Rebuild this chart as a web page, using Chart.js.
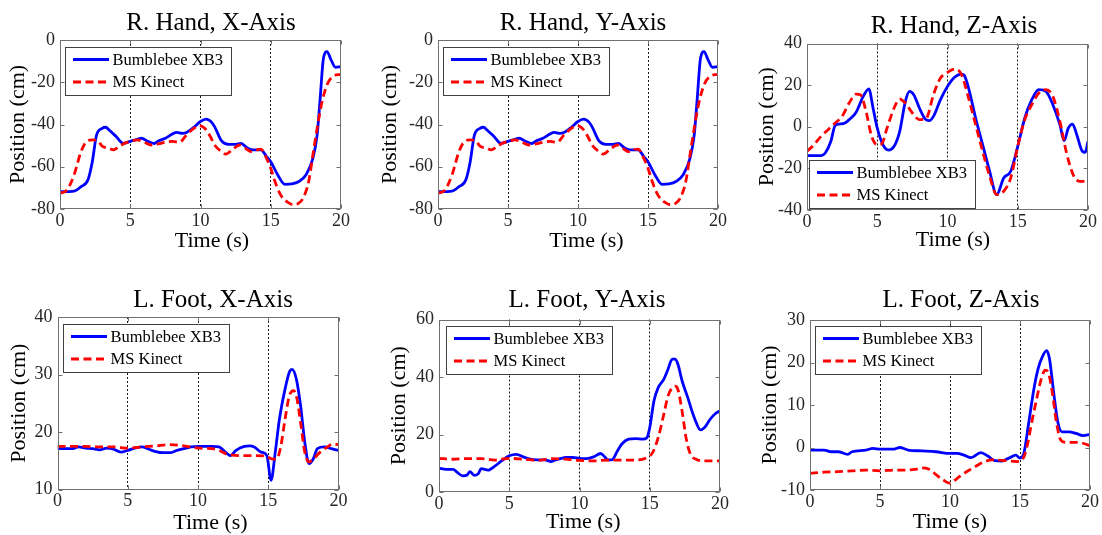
<!DOCTYPE html>
<html><head><meta charset="utf-8">
<script src="https://cdn.jsdelivr.net/npm/chart.js@4.4.1/dist/chart.umd.min.js"></script>
<style>
html,body{margin:0;padding:0;background:#fff;width:1102px;height:535px;overflow:hidden;position:relative}
canvas{position:absolute}
</style></head><body>
<script>
// ---------- data ----------
const seriesNames = ['Bumblebee XB3', 'MS Kinect'];
const timeTicks = [0, 5, 10, 15, 20];
const eventTimes = [5, 10, 15];

// R. Hand, X-Axis
const rhxBlueT = [0,1,1.5,2,2.3,2.6,3,3.25,3.5,4,4.5,5,5.5,5.8,6.2,6.7,7,7.5,8,8.3,8.7,9,9.5,10,10.4,10.8,11,11.5,12,12.5,12.9,13.3,13.7,14,14.3,14.7,15,15.5,16,16.5,17,17.5,18,18.3,18.5,18.75,19,19.3,19.6,20];
const rhxBlueV = [-71.8,-71.5,-69.4,-66,-57.6,-45,-41.8,-41.3,-42.6,-45.7,-48.9,-48,-47,-46.5,-47.8,-49,-47.8,-46.5,-44.5,-43.7,-44.2,-43.8,-41.5,-38.6,-37.5,-39,-41,-47.8,-49.4,-49.4,-49,-51,-52,-52,-52,-55.2,-57.6,-63.9,-68.3,-68.1,-67,-63.9,-56,-45,-29.2,-8.7,-5.5,-9.5,-12.9,-12.6];
const rhxRedT = [0,0.5,1,1.5,1.9,2.3,2.7,3,3.5,3.8,4.2,4.6,5,5.5,6,6.5,7,7.5,8,8.5,9,9.5,9.9,10.3,10.7,11,11.5,11.8,12.3,12.8,13.2,13.6,14,14.3,14.7,15,15.3,15.7,16.2,16.6,17,17.3,17.7,18,18.3,18.6,19,19.4,20];
const rhxRedV = [-72.6,-71,-63.9,-52.8,-48,-47.3,-47.8,-50.2,-51.3,-52,-50.5,-48.9,-48,-47.3,-48.4,-49.7,-49.2,-48.4,-48,-48.4,-45,-42,-40.5,-41.8,-45.7,-49.7,-52.8,-54,-51.7,-49.7,-51.3,-52.8,-52,-51.7,-56,-60.7,-67,-73.3,-76.8,-78,-77.2,-74.9,-67,-54.4,-41.8,-30.8,-21.3,-17.4,-16.2];
const rhxYTicks = [-80,-60,-40,-20,0];

// R. Hand, Y-Axis
const rhyBlueT = [0,1,1.5,2,2.3,2.6,3,3.25,3.5,4,4.5,5,5.5,5.8,6.2,6.7,7,7.5,8,8.3,8.7,9,9.5,10,10.4,10.8,11,11.5,12,12.5,12.9,13.3,13.7,14,14.3,14.7,15,15.5,16,16.5,17,17.5,18,18.3,18.5,18.75,19,19.3,19.6,20];
const rhyBlueV = [-71.8,-71.5,-69.4,-66,-57.6,-45,-41.8,-41.3,-42.6,-45.7,-48.9,-48,-47,-46.5,-47.8,-49,-47.8,-46.5,-44.5,-43.7,-44.2,-43.8,-41.5,-38.6,-37.5,-39,-41,-47.8,-49.4,-49.4,-49,-51,-52,-52,-52,-55.2,-57.6,-63.9,-68.3,-68.1,-67,-63.9,-56,-45,-29.2,-8.7,-5.5,-9.5,-12.9,-12.6];
const rhyRedT = [0,0.5,1,1.5,1.9,2.3,2.7,3,3.5,3.8,4.2,4.6,5,5.5,6,6.5,7,7.5,8,8.5,9,9.5,9.9,10.3,10.7,11,11.5,11.8,12.3,12.8,13.2,13.6,14,14.3,14.7,15,15.3,15.7,16.2,16.6,17,17.3,17.7,18,18.3,18.6,19,19.4,20];
const rhyRedV = [-72.6,-71,-63.9,-52.8,-48,-47.3,-47.8,-50.2,-51.3,-52,-50.5,-48.9,-48,-47.3,-48.4,-49.7,-49.2,-48.4,-48,-48.4,-45,-42,-40.5,-41.8,-45.7,-49.7,-52.8,-54,-51.7,-49.7,-51.3,-52.8,-52,-51.7,-56,-60.7,-67,-73.3,-76.8,-78,-77.2,-74.9,-67,-54.4,-41.8,-30.8,-21.3,-17.4,-16.2];
const rhyYTicks = [-80,-60,-40,-20,0];

// R. Hand, Z-Axis
const rhzBlueT = [0,0.5,1,1.3,1.7,2,2.3,2.7,3,3.5,4,4.4,4.7,5,5.4,5.8,6.2,6.6,7,7.3,7.6,8,8.4,8.7,9,9.5,10,10.5,11,11.2,11.5,12,12.5,13,13.5,14,14.5,15,15.5,16,16.5,17,17.5,18,18.3,18.6,18.9,19.2,19.6,19.8,20];
const rhzBlueV = [-13.8,-13.9,-13.9,-12.6,-7,0.6,1.3,1.8,3.4,7,14.6,18.2,9,-0.6,-8.6,-11.2,-9.4,-2.2,12.2,17,15.4,9,3.8,2.9,5,13,19.4,23.8,25.3,24.6,18.6,4.2,-8.6,-21.4,-32.6,-24.6,-21.4,-9.4,4.2,13,17.8,17,10.6,1,-6.7,-0.6,1.3,-3.8,-11.8,-12.3,-7];
const rhzRedT = [0,0.5,1,1.5,2,2.5,3,3.5,3.8,4.2,4.6,5,5.3,5.7,6.2,6.6,7,7.5,8,8.5,9,9.5,10,10.5,11,11.5,12,12.5,13,13.5,14,14.5,15,15.5,16,16.5,17,17.5,18,18.5,19,19.4,20];
const rhzRedV = [-11.8,-8.6,-4.6,-1.4,1.8,5,11.4,15.7,15.4,7.4,-4.6,-8.6,-8.3,-0.6,9,13.3,11.4,6.6,3.4,4.2,15.4,23.4,26.1,27.7,25,13.8,1,-11.8,-23.8,-32.6,-31,-24.6,-9.4,3.4,10.6,16.2,17.8,14.6,2.6,-13.4,-23.8,-26.2,-26.2];
const rhzYTicks = [-40,-20,0,20,40];

// L. Foot, X-Axis
const lfxBlueT = [0,1,1.5,2,2.5,3,3.5,4,4.5,5,5.5,6,6.5,7,7.5,8,8.5,9,9.5,10,11,11.5,12,12.3,12.7,13.3,13.7,14,14.5,14.9,15.2,15.5,15.8,16.2,16.5,16.7,17,17.3,17.6,17.9,18.2,18.5,19,19.5,20];
const lfxBlueV = [17.1,17.1,17.4,17.2,17.1,16.9,17.2,17,16.5,16.8,17.2,17.4,17,16.6,16.4,16.4,16.8,17.1,17.4,17.5,17.5,17.4,16.4,15.9,16.8,17.5,17.6,17.4,16.5,15.9,11.6,16.5,22.3,27.5,30.4,30.9,29.2,24.6,18.2,14.5,15.3,17.1,17.4,17.1,16.8];
const lfxRedT = [0,1,2,3,4,5,6,7,8,9,10,11,11.5,12,13,14,14.8,15.3,15.6,15.9,16.2,16.5,16.8,17,17.3,17.6,17.9,18.2,18.7,19.2,19.6,20];
const lfxRedV = [17.5,17.5,17.5,17.4,17.4,17.2,17.4,17.6,17.8,17.6,17.2,17.1,16.8,16.2,15.9,15.9,15.8,15.3,15.3,17.6,22.3,26.3,27.2,26.3,21.7,16.5,14.8,15.3,16.5,17.4,17.9,17.8];
const lfxYTicks = [10,20,30,40];

// L. Foot, Y-Axis
const lfyBlueT = [0,0.5,1,1.3,1.7,2,2.2,2.5,2.8,3,3.5,4,4.5,5,5.5,6,6.5,7,7.5,8,8.3,8.7,9,9.5,10,10.5,11,11.5,11.8,12,12.3,12.7,13,13.5,14,14.5,14.8,15,15.3,15.6,16,16.3,16.6,16.8,17,17.3,17.7,18,18.3,18.6,18.9,19.3,19.7,20];
const lfyBlueV = [8.3,7.9,7.9,6.8,5.6,5.9,7.1,5.8,6.4,8.1,7.6,9.1,11,12.6,13.1,12.2,11.4,11.2,11.2,10.6,11.2,11.7,12,12,11.7,11.6,12.2,13.4,12.2,11.2,11.2,14.3,16.6,18.4,18.6,18.4,18.9,22.4,31.7,36.3,39.2,42.7,46.2,46.2,44.5,38.7,32.9,28.2,24.2,21.6,22.4,25.3,27.4,28.2];
const lfyRedT = [0,1,2,3,4,5,6,7,8,9,10,11,12,13,14,14.8,15.2,15.6,16,16.3,16.6,16.8,17,17.3,17.6,17.9,18.3,19,20];
const lfyRedV = [11.7,11.4,11.6,11.6,11.1,11.7,11.4,11,11.6,11.4,11,10.8,11.1,11.1,11.1,12,13.7,18.9,27,33.4,36.3,36.8,35.7,28.2,18.4,13.1,11.4,10.8,10.8];
const lfyYTicks = [0,20,40,60];

// L. Foot, Z-Axis
const lfzBlueT = [0,1,1.5,2,2.7,3,4,4.5,5,5.5,6,6.4,7,8,9,10,10.5,11,11.5,12.2,12.7,13.2,13.7,14.2,14.7,15,15.3,15.6,16,16.3,16.6,16.9,17.1,17.4,17.7,18,18.5,19,19.5,20];
const lfzBlueV = [-0.6,-0.6,-1,-1,-1.6,-1,-0.6,-0.2,-0.4,-0.4,-0.4,0,-0.6,-0.8,-1,-1.4,-1.4,-1.8,-2.4,-1.2,-2,-3.1,-3.2,-2.5,-1.8,-2.5,-1,5.3,13.9,18.6,21.4,22.8,21,13.1,6,3.7,3.7,3.3,2.8,3.1];
const lfzRedT = [0,1,2,3,4,5,6,7,7.6,8,8.5,9,9.5,10,10.5,11,11.5,12,12.5,13,14,14.8,15.2,15.5,15.8,16.2,16.5,16.8,17,17.3,17.6,17.9,18.3,19,19.5,20];
const lfzRedV = [-6.1,-5.8,-5.7,-5.5,-5.3,-5.5,-5.3,-5.3,-5.1,-4.8,-5.1,-6.4,-7.6,-8.4,-7.3,-6.1,-5.1,-4.1,-3.3,-2.9,-3.1,-3.3,-2.7,0.2,5.3,11.6,15.9,18.2,17.8,13.1,6,1.8,1.2,1.2,1,0.4];
const lfzYTicks = [-10,0,10,20,30];

const titles = ['R. Hand, X-Axis','R. Hand, Y-Axis','R. Hand, Z-Axis','L. Foot, X-Axis','L. Foot, Y-Axis','L. Foot, Z-Axis'];
const xAxisTitle = 'Time (s)';
const yAxisTitle = 'Position (cm)';

// ---------- layout (page pixels) ----------
const layouts = [
  {cx:0,   cy:0,   cw:360, ch:262, L:60,  R:341,  T:40,  B:209,   tX:211, tY:30,   yT:18.3, xT:241.5, xTX:212,   lgX:65,    lgY:46.7},
  {cx:372, cy:0,   cw:360, ch:262, L:438, R:718,  T:40,  B:209,   tX:583, tY:29.8, yT:390,  xT:241.7, xTX:586.5, lgX:443,   lgY:47.3},
  {cx:738, cy:0,   cw:364, ch:262, L:807, R:1088, T:43.5,B:210,   tX:954, tY:33.3, yT:767,  xT:240,   xTX:953,   lgX:809.3, lgY:159.7},
  {cx:0,   cy:268, cw:360, ch:267, L:57.5,R:338.5,T:317, B:489.5, tX:213, tY:307,  yT:19,   xT:523,   xTX:210.5, lgX:63,    lgY:324.3},
  {cx:372, cy:268, cw:360, ch:267, L:439, R:720,  T:319.5,B:492,  tX:587, tY:307.3,yT:399,  xT:522.5, xTX:583.3, lgX:446.3, lgY:325.7},
  {cx:738, cy:268, cw:364, ch:267, L:810, R:1090, T:320, B:490,   tX:961, tY:307.3,yT:770,  xT:522.5, xTX:950,   lgX:815,   lgY:326}
];
const panelData = [
  [rhxBlueT, rhxBlueV, rhxRedT, rhxRedV, rhxYTicks],
  [rhyBlueT, rhyBlueV, rhyRedT, rhyRedV, rhyYTicks],
  [rhzBlueT, rhzBlueV, rhzRedT, rhzRedV, rhzYTicks],
  [lfxBlueT, lfxBlueV, lfxRedT, lfxRedV, lfxYTicks],
  [lfyBlueT, lfyBlueV, lfyRedT, lfyRedV, lfyYTicks],
  [lfzBlueT, lfzBlueV, lfzRedT, lfzRedV, lfzYTicks]
];

const FAM = "'Liberation Serif', 'Times New Roman', serif";
const AX_SIZE = 22, AX_HALF = 11;

const decor = {
  id: 'decor',
  afterDraw(chart, args, o) {
    const {ctx, chartArea: a, scales: {x, y}} = chart;
    const l = Math.round(a.left) + 0.5, r = Math.round(a.right) - 0.5;
    const t = Math.round(a.top) + 0.5, b = Math.round(a.bottom) - 0.5;
    ctx.save();
    ctx.lineWidth = 1; ctx.strokeStyle = '#707070'; ctx.setLineDash([]);
    ctx.beginPath();
    x.ticks.forEach(tk => { const p = Math.round(x.getPixelForValue(tk.value)) + 0.5;
      ctx.moveTo(p, b); ctx.lineTo(p, b - 4); ctx.moveTo(p, t); ctx.lineTo(p, t + 4); });
    y.ticks.forEach(tk => { const p = Math.round(y.getPixelForValue(tk.value)) + 0.5;
      ctx.moveTo(l, p); ctx.lineTo(l + 4, p); ctx.moveTo(r, p); ctx.lineTo(r - 4, p); });
    ctx.stroke();
    ctx.strokeRect(l, t, r - l, b - t);
    // legend
    const bx = Math.round(o.lgX - o.cx), by = Math.round(o.lgY - o.cy);
    ctx.fillStyle = '#fff'; ctx.fillRect(bx, by, 166, 49);
    ctx.strokeStyle = '#404040'; ctx.strokeRect(bx + 0.5, by + 0.5, 166, 48);
    ctx.font = "16.5px " + FAM; ctx.textBaseline = 'middle'; ctx.textAlign = 'left';
    chart.data.datasets.forEach((ds, i) => {
      const ry = by + (i === 0 ? 12.5 : 35);
      ctx.save();
      ctx.strokeStyle = ds.borderColor; ctx.lineWidth = ds.borderWidth; ctx.setLineDash(ds.borderDash || []);
      ctx.beginPath(); ctx.moveTo(bx + 8, ry); ctx.lineTo(bx + 44, ry); ctx.stroke();
      ctx.restore();
      ctx.fillStyle = '#000'; ctx.fillText(ds.label, bx + 47.5, ry + 1);
    });
    // chart title
    ctx.font = "25px " + FAM; ctx.textAlign = 'center'; ctx.textBaseline = 'alphabetic'; ctx.fillStyle = '#000';
    ctx.fillText(o.title, o.tX - o.cx, o.tY - o.cy);
    // x-axis title
    ctx.font = AX_SIZE + "px " + FAM; ctx.textBaseline = 'middle';
    ctx.fillText(o.xTitle, o.xTX - o.cx, o.xT - o.cy);
    ctx.restore();
  }
};

const pts = (ts, vs) => ts.map((t, i) => ({x: t, y: vs[i]}));

layouts.forEach((lo, k) => {
  const [bT, bV, rT, rV, yTicks] = panelData[k];
  const cv = document.createElement('canvas');
  cv.width = lo.cw; cv.height = lo.ch;
  cv.style.left = lo.cx + 'px'; cv.style.top = lo.cy + 'px';
  cv.style.width = lo.cw + 'px'; cv.style.height = lo.ch + 'px';
  document.body.appendChild(cv);

  const yScaleLeft = lo.yT - AX_HALF;
  const Wy = lo.L - yScaleLeft;
  const Hx = lo.xT - lo.B + AX_HALF;
  const pad = {
    left: yScaleLeft - lo.cx,
    top: lo.T - lo.cy,
    right: lo.cx + lo.cw - lo.R,
    bottom: lo.cy + lo.ch - lo.B - Hx
  };
  const tickFont = {family: FAM, size: 18};
  new Chart(cv, {
    type: 'line',
    data: {
      datasets: [
        {label: seriesNames[0], data: pts(bT, bV), borderColor: '#0000ff', borderWidth: 2.8,
         pointRadius: 0, fill: false, cubicInterpolationMode: 'monotone', order: 1},
        {label: seriesNames[1], data: pts(rT, rV), borderColor: '#ff0000', borderWidth: 2.8,
         borderDash: [8, 4.5], pointRadius: 0, fill: false, cubicInterpolationMode: 'monotone', order: 0}
      ]
    },
    options: {
      responsive: false, animation: false, events: [],
      layout: {padding: pad},
      plugins: {
        legend: {display: false}, tooltip: {enabled: false}, title: {display: false},
        decor: Object.assign({title: titles[k], xTitle: xAxisTitle}, lo)
      },
      scales: {
        x: {
          type: 'linear', min: timeTicks[0], max: timeTicks[timeTicks.length - 1],
          afterBuildTicks: s => { s.ticks = timeTicks.map(v => ({value: v})); },
          afterFit: s => { s.height = Hx; },
          grid: {display: true, drawTicks: false, drawOnChartArea: true, lineWidth: 1,
                 color: c => (c.tick && eventTimes.includes(c.tick.value)) ? '#1a1a1a' : 'rgba(0,0,0,0)',
                 borderDash: [2, 2]},
          border: {display: false, dash: [2, 2]},
          ticks: {font: tickFont, color: '#262626', padding: 1, maxRotation: 0, autoSkip: false},
          title: {display: false, text: xAxisTitle}
        },
        y: {
          type: 'linear', min: yTicks[0], max: yTicks[yTicks.length - 1],
          afterBuildTicks: s => { s.ticks = yTicks.map(v => ({value: v})); },
          afterFit: s => { s.width = Wy; },
          grid: {display: false, drawTicks: false},
          border: {display: false},
          ticks: {font: tickFont, color: '#262626', padding: 5, autoSkip: false},
          title: {display: true, text: yAxisTitle, color: '#000', padding: 0,
                  font: {family: FAM, size: AX_SIZE, lineHeight: 1}}
        }
      }
    },
    plugins: [decor]
  });
});
</script>
</body></html>
